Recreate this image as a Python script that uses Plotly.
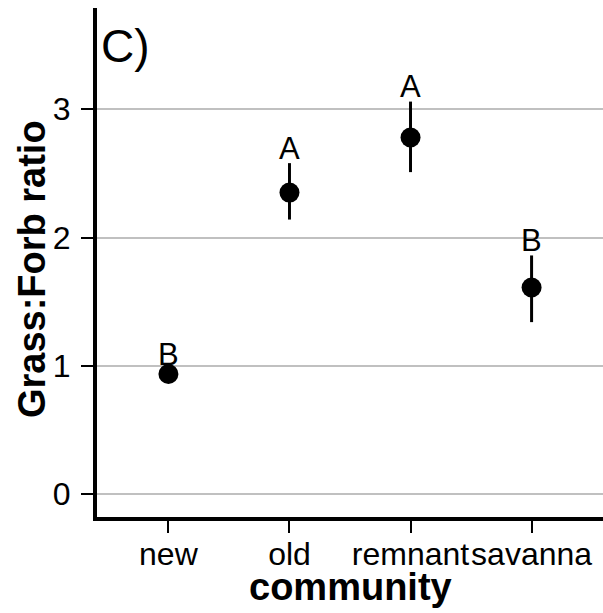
import plotly.graph_objects as go

# Grass:Forb ratio by community type (mean ± SE) with group letters
community = ["new", "old", "remnant", "savanna"]
ratio_mean = [0.935, 2.35, 2.78, 1.61]
ratio_lower = [0.89, 2.14, 2.51, 1.34]
ratio_upper = [0.97, 2.58, 3.06, 1.86]
group_letters = ["B", "A", "A", "B"]
y_ticks = [0, 1, 2, 3]

FONT = "Liberation Sans, Arial, sans-serif"
TICK_SIZE = 32
TITLE_SIZE = 38

fig = go.Figure()

# error bars as plain vertical segments (no caps)
for c, lo, hi in zip(community, ratio_lower, ratio_upper):
    fig.add_trace(go.Scatter(
        x=[c, c], y=[lo, hi], mode="lines",
        line=dict(color="black", width=3),
        showlegend=False, hoverinfo="skip",
    ))

fig.add_trace(go.Scatter(
    x=community, y=ratio_mean, mode="markers",
    marker=dict(color="black", size=20, symbol="circle"),
    showlegend=False,
))

# significance letters just above each error bar
for c, hi, lab in zip(community, ratio_upper, group_letters):
    fig.add_annotation(
        x=c, y=hi, text=lab, showarrow=False,
        yanchor="middle", yshift=15,
        font=dict(family=FONT, size=31, color="black"),
    )

# panel label
fig.add_annotation(
    xref="paper", yref="paper", x=0.004, y=0.98,
    xanchor="left", yanchor="top", text="C)", showarrow=False,
    font=dict(family=FONT, size=46, color="black"),
)

# axis titles
fig.add_annotation(
    xref="paper", yref="paper", x=0.5, y=-0.137,
    xanchor="center", yanchor="middle", showarrow=False,
    text="<b>community</b>",
    font=dict(family=FONT, size=TITLE_SIZE, color="black"),
)
fig.add_annotation(
    xref="paper", yref="paper", x=-0.1285, y=0.487,
    xanchor="center", yanchor="middle", showarrow=False,
    text="<b>Grass:Forb ratio</b>", textangle=-90,
    font=dict(family=FONT, size=TITLE_SIZE, color="black"),
)

fig.update_layout(
    width=603, height=613,
    margin=dict(l=97, r=0, t=8, b=96),
    plot_bgcolor="white", paper_bgcolor="white",
    font=dict(family=FONT, color="black"),
    xaxis=dict(
        type="category", categoryorder="array", categoryarray=community,
        range=[-0.59, 3.59], automargin=False, tickangle=0,
        showline=True, linecolor="black", linewidth=4,
        ticks="outside", ticklen=12, tickwidth=2, tickcolor="black",
        ticklabelstandoff=-6,
        showgrid=False, zeroline=False,
        tickfont=dict(family=FONT, size=TICK_SIZE, color="black"),
    ),
    yaxis=dict(
        range=[-0.18, 3.79], automargin=False,
        tickvals=y_ticks, ticktext=[str(v) for v in y_ticks],
        showline=True, linecolor="black", linewidth=4,
        ticks="outside", ticklen=12, tickwidth=2, tickcolor="black",
        ticklabelstandoff=4,
        showgrid=True, gridcolor="#c0c0c0", gridwidth=2,
        zeroline=False,
        tickfont=dict(family=FONT, size=TICK_SIZE, color="black"),
    ),
)

fig.write_html("out.html")
